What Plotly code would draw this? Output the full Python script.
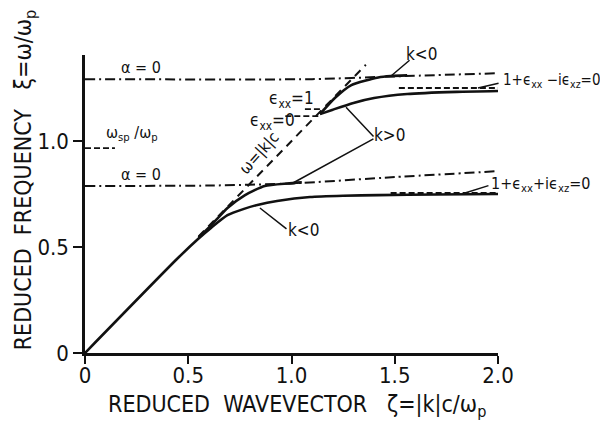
import plotly.graph_objects as go

# ---------------- data ----------------
# lower branch, k<0 (starts on the light line from the origin)
low_kneg_x = [0, 0.45, 0.55, 0.61, 0.69, 0.77, 0.84, 0.93, 1.09, 1.25, 1.42, 1.70, 2.0]
low_kneg_y = [0, 0.448, 0.54, 0.59, 0.65, 0.68, 0.70, 0.717, 0.736, 0.742, 0.745, 0.748, 0.75]
# lower branch, k>0
low_kpos_x = [0.55, 0.62, 0.69, 0.775, 0.87, 0.98, 1.05]
low_kpos_y = [0.545, 0.612, 0.684, 0.745, 0.788, 0.800, 0.805]
# upper branch, k<0
up_kneg_x = [1.138, 1.21, 1.29, 1.42, 1.48, 1.56]
up_kneg_y = [1.127, 1.203, 1.264, 1.300, 1.307, 1.31]
# upper branch, k>0
up_kpos_x = [1.138, 1.20, 1.30, 1.40, 1.56, 1.80, 2.0]
up_kpos_y = [1.127, 1.148, 1.180, 1.203, 1.222, 1.232, 1.236]
# alpha = 0 lines (dash-dot)
alpha_up_x = [0, 1.1, 1.5, 2.0]
alpha_up_y = [1.292, 1.292, 1.305, 1.32]
alpha_low_x = [0, 0.6, 1.0, 1.5, 2.0]
alpha_low_y = [0.788, 0.79, 0.80, 0.83, 0.858]
# light line continuation (dashed)
light_x = [0.55, 1.36]
light_y = [0.55, 1.36]
# dashed asymptotes / reference levels
asym_up_x, asym_up_y = [1.52, 2.0], [1.25, 1.25]
asym_low_x, asym_low_y = [1.48, 2.0], [0.755, 0.755]
wsp_x, wsp_y = [0.0, 0.145], [0.967, 0.967]
exx1_x, exx1_y = [1.065, 1.153], [1.151, 1.151]
exx0_x, exx0_y = [0.97, 1.14], [1.118, 1.118]

xticks = [0, 0.5, 1.0, 1.5, 2.0]
xtick_text = ["0", "0.5", "1.0", "1.5", "2.0"]
yticks = [0, 0.5, 1.0]
ytick_text = ["0", "0.5", "1.0"]

FONT = "DejaVu Sans Condensed, Liberation Sans Narrow, Liberation Sans, Arial"
BLACK = "#111111"

fig = go.Figure()

def add_line(x, y, dash="solid", width=2.6):
    fig.add_trace(go.Scatter(x=x, y=y, mode="lines",
                             line=dict(color=BLACK, width=width, dash=dash, shape="spline", smoothing=0.6),
                             hoverinfo="skip", showlegend=False))

DASHDOT = "10px,4px,2px,4px"
DASH = "6px,3px"

add_line(alpha_up_x, alpha_up_y, DASHDOT, 2.0)
add_line(alpha_low_x, alpha_low_y, DASHDOT, 2.0)
add_line(light_x, light_y, "8px,6px", 2.0)
add_line(asym_up_x, asym_up_y, DASH, 2.0)
add_line(asym_low_x, asym_low_y, DASH, 2.0)
add_line(wsp_x, wsp_y, DASH, 1.8)
add_line(exx1_x, exx1_y, DASH, 1.8)
add_line(exx0_x, exx0_y, DASH, 1.8)
add_line(low_kneg_x, low_kneg_y)
add_line(low_kpos_x, low_kpos_y)
add_line(up_kneg_x, up_kneg_y)
add_line(up_kpos_x, up_kpos_y)

anns = []

def txt(x, y, s, size=17, xanchor="left", angle=0, ref="x"):
    anns.append(dict(x=x, y=y, xref=ref if ref == "paper" else "x", yref="paper" if ref == "paper" else "y",
                     text=s, showarrow=False,
                     xanchor=xanchor, yanchor="middle", textangle=angle,
                     font=dict(family=FONT, size=size, color=BLACK)))

def leader(x0, y0, x1, y1):
    anns.append(dict(x=x1, y=y1, ax=x0, ay=y0, xref="x", yref="y", axref="x", ayref="y",
                     text="", showarrow=True, arrowhead=0, arrowwidth=1.5, arrowcolor=BLACK))

txt(0.27, 1.345, "α = 0", 16, "center")
txt(0.27, 0.84, "α = 0", 16, "center")
txt(0.09, 1.035, "ω<sub>sp</sub> /ω<sub>p</sub>", 16)
txt(0.88, 1.195, "ϵ<sub>xx</sub>=1", 17)
txt(0.79, 1.09, "ϵ<sub>xx</sub>=0", 17)
txt(0.845, 0.945, "ω=|k|c", 16, "center", -48)
txt(1.39, 1.03, "k>0", 17)
txt(0.975, 0.58, "k<0", 17)
# labels outside the axis ranges (paper coords relative to plot area)
txt(0.772, 1.005, "k<0", 17, ref="paper")
txt(1.008, 0.915, "1+ϵ<sub>xx</sub> −iϵ<sub>xz</sub>=0", 15, ref="paper")
txt(0.978, 0.565, "1+ϵ<sub>xx</sub>+iϵ<sub>xz</sub>=0", 16, ref="paper")

leader(1.579, 1.387, 1.482, 1.307)
leader(2.01, 1.274, 1.903, 1.25)
leader(1.404, 1.014, 1.264, 1.160)
leader(1.404, 1.014, 1.007, 0.802)
leader(1.961, 0.792, 1.840, 0.755)
leader(0.983, 0.580, 0.847, 0.684)

# axis titles as annotations (paper coords)
anns.append(dict(x=0.513, y=-0.178, xref="paper", yref="paper", showarrow=False,
                 xanchor="center", yanchor="middle",
                 text="REDUCED  WAVEVECTOR   ζ=|k|c/ω<sub>p</sub>",
                 font=dict(family=FONT, size=23, color=BLACK)))
anns.append(dict(x=-0.145, y=0.58, xref="paper", yref="paper", showarrow=False,
                 xanchor="center", yanchor="middle", textangle=-90,
                 text="REDUCED  FREQUENCY   ξ=ω/ω<sub>p</sub>",
                 font=dict(family=FONT, size=23, color=BLACK)))

fig.update_layout(
    width=608, height=421,
    margin=dict(l=77, r=118, t=47, b=76, autoexpand=False),
    paper_bgcolor="white", plot_bgcolor="white",
    font=dict(family=FONT, color=BLACK),
    annotations=anns,
    xaxis=dict(range=[0, 2.0], showgrid=False, zeroline=False, showline=True,
               linecolor=BLACK, linewidth=2.5, ticks="outside", ticklen=8, tickwidth=2,
               tickcolor=BLACK, tickvals=xticks, ticktext=xtick_text, automargin=False,
               ticklabelstandoff=-7,
               tickfont=dict(family=FONT, size=22, color=BLACK)),
    yaxis=dict(range=[0, 1.406], showgrid=False, zeroline=False, showline=True,
               linecolor=BLACK, linewidth=2.5, ticks="outside", ticklen=9, tickwidth=2,
               tickcolor=BLACK, tickvals=yticks, ticktext=ytick_text, automargin=False,
               tickfont=dict(family=FONT, size=22, color=BLACK)),
)

fig.write_html("out.html")
